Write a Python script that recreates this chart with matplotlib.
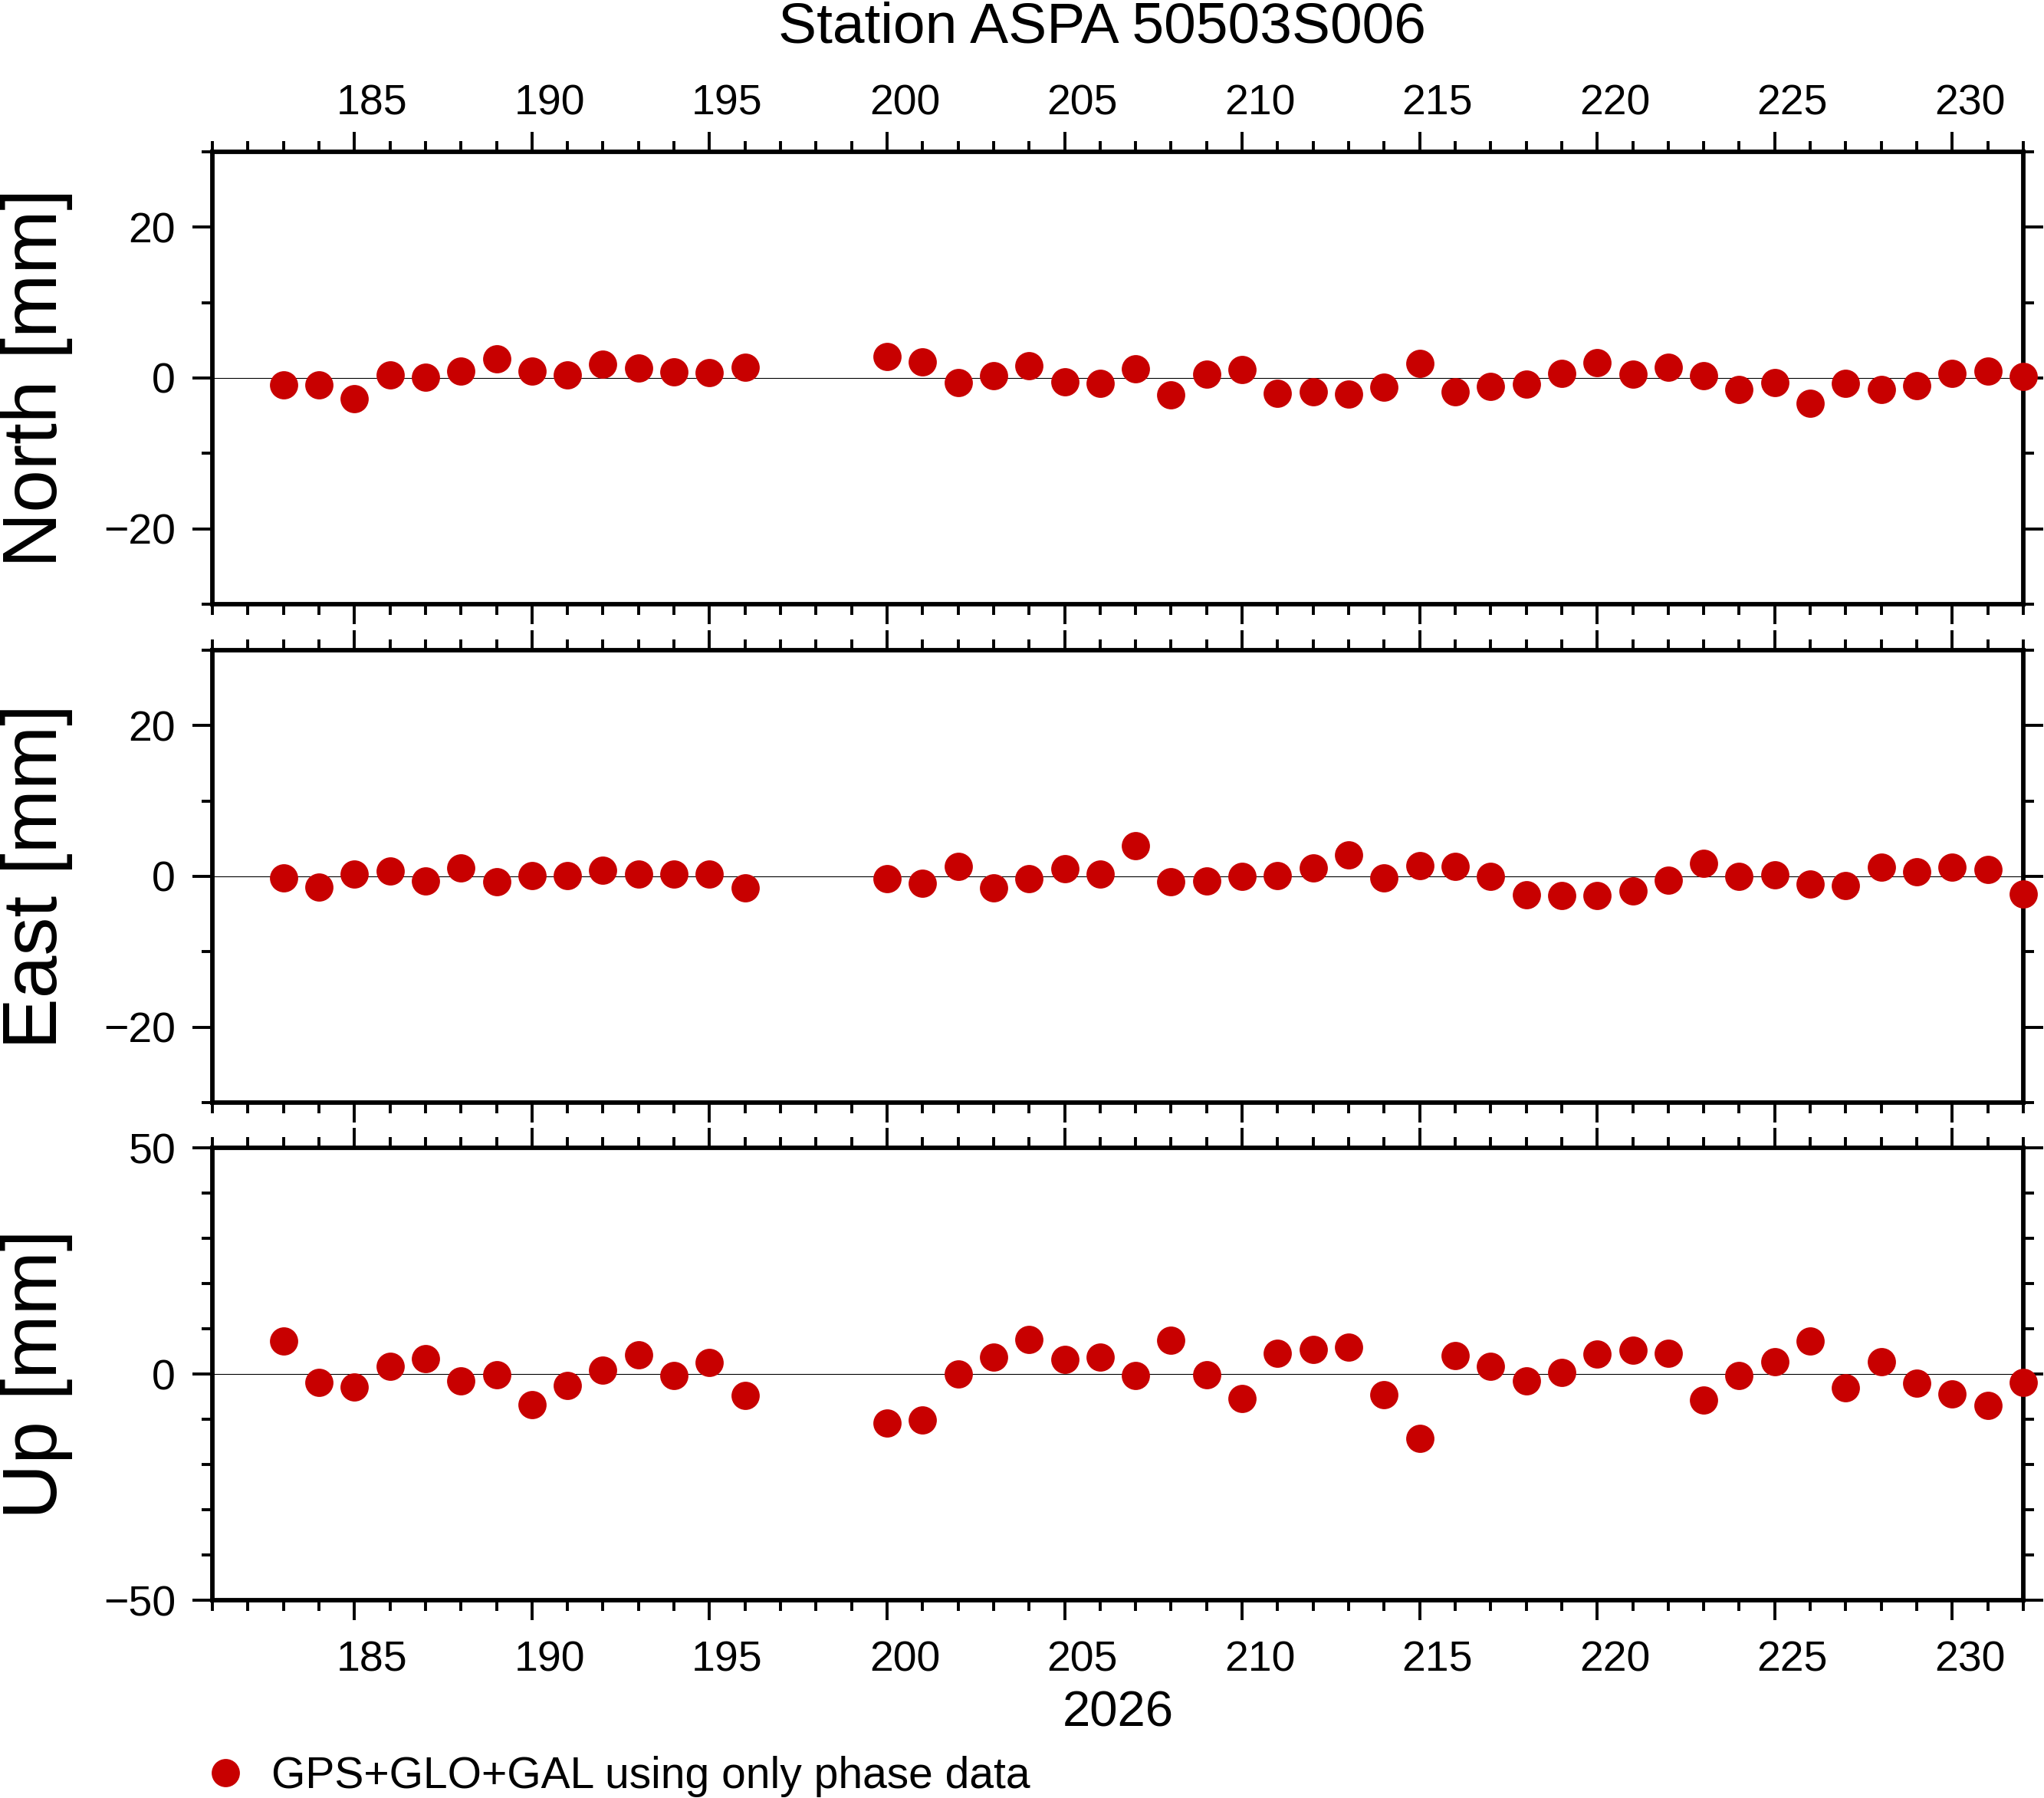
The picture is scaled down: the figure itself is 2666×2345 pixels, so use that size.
import matplotlib
matplotlib.use("Agg")
import matplotlib.pyplot as plt
import matplotlib.transforms as mtransforms
from matplotlib.ticker import MultipleLocator

plt.rcParams['font.family'] = ['Liberation Sans', 'DejaVu Sans']

# day of year 2026
days = list(range(183, 197)) + list(range(200, 233))

north = [-0.9, -0.9, -2.8, 0.4, 0.1, 0.9, 2.5, 0.9, 0.4, 1.8, 1.3, 0.8, 0.7, 1.4,
         2.8, 2.1, -0.6, 0.3, 1.6, -0.5, -0.7,
         1.2, -2.2, 0.5, 1.1, -2.0, -1.8, -2.1, -1.2, 1.9, -1.8, -1.1, -0.8, 0.6,
         2.0, 0.5, 1.4, 0.3, -1.5, -0.6, -3.4, -0.7, -1.5, -1.0, 0.6, 0.9, 0.2]
east = [-0.2, -1.4, 0.3, 0.7, -0.6, 1.1, -0.7, 0.1, 0.1, 0.8, 0.3, 0.3, 0.3, -1.5,
        -0.3, -0.9, 1.3, -1.5, -0.3, 1.0, 0.3,
        4.1, -0.7, -0.6, 0.0, 0.1, 1.1, 2.8, -0.2, 1.4, 1.3, 0.0, -2.4, -2.5,
        -2.5, -1.9, -0.5, 1.7, 0.0, 0.2, -1.0, -1.2, 1.2, 0.6, 1.2, 0.9, -2.3]
up = [7.3, -1.9, -2.9, 1.7, 3.4, -1.5, -0.2, -6.8, -2.6, 0.9, 4.2, -0.3, 2.6, -4.8,
      -10.8, -10.1, 0.0, 3.8, 7.7, 3.3, 3.8,
      -0.3, 7.5, -0.2, -5.4, 4.6, 5.4, 5.9, -4.5, -14.2, 4.1, 1.7, -1.5, 0.3,
      4.4, 5.2, 4.6, -5.8, -0.3, 2.8, 7.3, -3.1, 2.8, -2.0, -4.4, -7.0, -1.9]

components = ['North [mm]', 'East [mm]', 'Up [mm]']
series = [north, east, up]
ylims = [(-30, 30), (-30, 30), (-50, 50)]
ymajor = [20, 20, 50]
yminor = [10, 10, 10]

W, H = 26.66, 23.45
fig = plt.figure(figsize=(W, H), dpi=100)

left, right = 277 / 2666, 2639 / 2666
rows = [(0.6640, 0.9156), (0.3868, 0.6384), (0.1100, 0.3616)]
xmin, xmax = 181, 232
red = '#c80000'

# tick labels sit in the middle of the day interval
half_day = (right - left) * W / (xmax - xmin) / 2
shift = mtransforms.ScaledTranslation(half_day, 0, fig.dpi_scale_trans)

axes = []
for i, (b, t) in enumerate(rows):
    ax = fig.add_axes([left, b, right - left, t - b])
    ax.axhline(0, color='black', lw=0.8, zorder=1)
    ax.plot(days, series[i], 'o', ms=26.5, color=red, mec=red, mew=0,
            clip_on=False, zorder=3)
    ax.set_xlim(xmin, xmax)
    ax.set_ylim(*ylims[i])
    ax.xaxis.set_major_locator(MultipleLocator(5))
    ax.xaxis.set_minor_locator(MultipleLocator(1))
    ax.yaxis.set_major_locator(MultipleLocator(ymajor[i]))
    ax.yaxis.set_minor_locator(MultipleLocator(yminor[i]))
    for s in ax.spines.values():
        s.set_linewidth(4.2)
    ax.tick_params(which='both', direction='out', top=True, right=True,
                   width=2.8, labelsize=40)
    ax.tick_params(which='major', length=18.5)
    ax.tick_params(which='minor', length=10)
    ax.tick_params(axis='y', which='major', pad=16)
    ax.tick_params(axis='x', which='major', pad=(8 if i == 0 else 19.5),
                   labelbottom=(i == 2), labeltop=(i == 0))
    for lab in ax.get_xticklabels():
        lab.set_transform(lab.get_transform() + shift)
    fig.text(48 / 2666, (b + t) / 2, components[i], rotation=90,
             ha='center', va='center', fontsize=72)
    axes.append(ax)

fig.text(0.539, 1 - 36 / 2345, 'Station ASPA 50503S006', ha='center',
         va='center', fontsize=54)
fig.text((left + right) / 2, 1 - 2235 / 2345, '2026', ha='center',
         va='center', fontsize=47)

handle, = axes[2].plot([], [], 'o', ms=26.5, color=red, mew=0)
fig.legend([handle], ['GPS+GLO+GAL using only phase data'], loc='center left',
           bbox_to_anchor=(left, 1 - 2317 / 2345), frameon=False, fontsize=41,
           handlelength=0.6, handletextpad=0.75, borderpad=0, borderaxespad=0,
           numpoints=1)

fig.savefig('out.png', dpi=100)
